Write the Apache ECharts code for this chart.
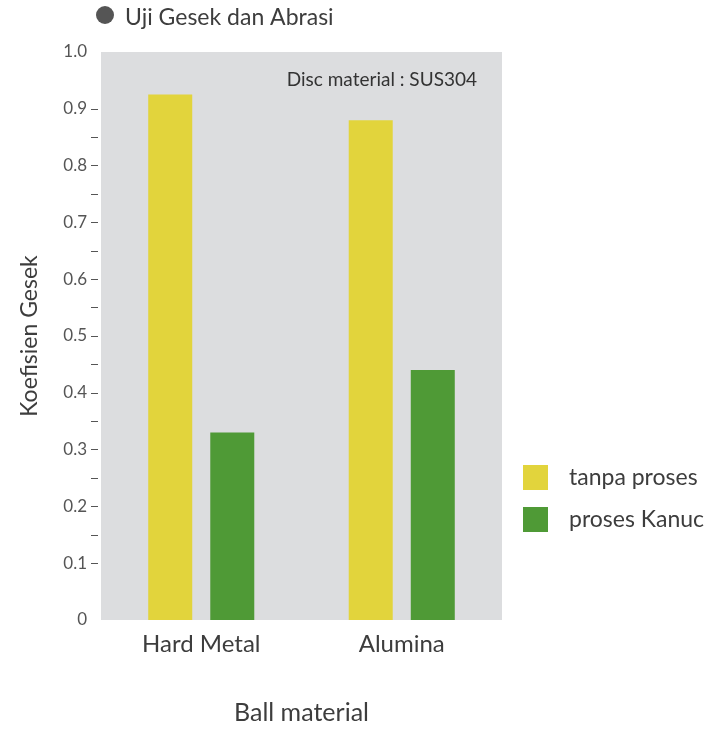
<!DOCTYPE html>
<html>
<head>
<meta charset="utf-8">
<script src="https://cdn.jsdelivr.net/npm/echarts@6/dist/echarts.min.js"></script>
<style>
  html, body { margin: 0; padding: 0; background: #ffffff; }
  #chart { width: 723px; height: 731px; }
</style>
</head>
<body>
<div id="chart"></div>
<script>
// Friction coefficient by ball material (disc: SUS304)
const categories = ['Hard Metal', 'Alumina'];
const tanpaProses = [0.925, 0.88];
const prosesKanuc = [0.33, 0.44];
const yTicks = [0.1, 0.15, 0.2, 0.25, 0.3, 0.35, 0.4, 0.45, 0.5, 0.55, 0.6, 0.65, 0.7, 0.75, 0.8, 0.85, 0.9];

const FONT = 'Lato, "Open Sans", sans-serif';
const chart = echarts.init(document.getElementById('chart'), null, { renderer: 'canvas' });

chart.setOption({
  backgroundColor: '#ffffff',
  animation: false,
  title: {
    text: 'Uji Gesek dan Abrasi',
    left: 120,
    top: 1,
    textStyle: { fontFamily: FONT, fontSize: 23, fontWeight: 'normal', color: '#3d3d3d' }
  },
  graphic: [
    { type: 'circle', shape: { cx: 105, cy: 15, r: 9 }, style: { fill: '#555' } },
    {
      type: 'text', x: 477, y: 80,
      style: {
        text: 'Disc material : SUS304', align: 'right', verticalAlign: 'middle',
        font: '19px ' + FONT, fill: '#333'
      }
    }
  ],
  legend: {
    orient: 'vertical',
    left: 518,
    top: 460,
    itemWidth: 25,
    itemHeight: 25,
    itemGap: 17,
    icon: 'rect',
    textStyle: { fontFamily: FONT, fontSize: 23, color: '#3d3d3d', padding: [0, 0, 0, 16] },
    data: ['tanpa proses', 'proses Kanuc']
  },
  grid: {
    left: 101, right: 221, top: 52, bottom: 111,
    show: true, backgroundColor: '#dcdddf', borderWidth: 0
  },
  xAxis: {
    type: 'category',
    data: categories,
    axisLine: { show: false },
    axisTick: { show: false },
    axisLabel: { fontFamily: FONT, fontSize: 24, color: '#3d3d3d', margin: 12 },
    name: 'Ball material',
    nameLocation: 'middle',
    nameGap: 80,
    nameTextStyle: { fontFamily: FONT, fontSize: 25, color: '#3d3d3d' }
  },
  yAxis: {
    type: 'value',
    min: 0, max: 1, interval: 0.1,
    offset: 3,
    axisLine: { show: false },
    splitLine: { show: false },
    axisTick: { show: true, length: 7, customValues: yTicks, lineStyle: { color: '#555', width: 1 } },
    axisLabel: {
      fontFamily: FONT, fontSize: 17, color: '#555', margin: 11,
      formatter: v => (v === 0 ? '0' : v.toFixed(1))
    },
    name: 'Koefisien Gesek',
    nameLocation: 'middle',
    nameGap: 57,
    nameTextStyle: { fontFamily: FONT, fontSize: 23, color: '#3d3d3d' }
  },
  series: [
    {
      name: 'tanpa proses', type: 'bar', data: tanpaProses,
      barWidth: 44, barGap: '41%',
      itemStyle: { color: '#e2d43c' }
    },
    {
      name: 'proses Kanuc', type: 'bar', data: prosesKanuc,
      barWidth: 44,
      itemStyle: { color: '#4f9a36' }
    }
  ]
});
</script>
</body>
</html>
